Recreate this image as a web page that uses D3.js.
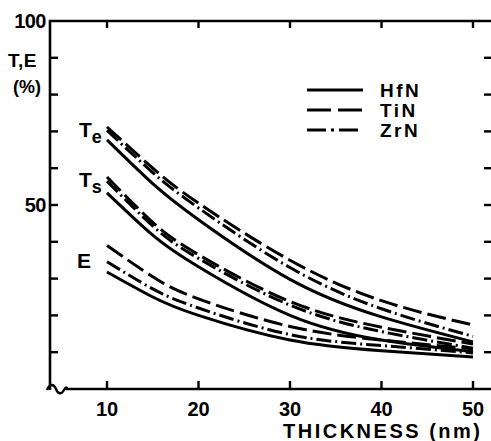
<!DOCTYPE html>
<html><head><meta charset="utf-8">
<script src="https://cdn.jsdelivr.net/npm/d3@7"></script>
<style>
html,body{margin:0;padding:0;background:#fff;}
svg text{font-family:"Liberation Sans",Arial,sans-serif;fill:#000;}
</style></head>
<body><svg id="c" width="491" height="441"></svg>
<script>
// ---- data ----
const thickness = [10, 15, 20, 30, 40, 50];
const materials = ["HfN", "TiN", "ZrN"];
const groups = ["Te", "Ts", "E"];
const Te_HfN = [67.7, 55.8, 46.0, 29.8, 19.6, 12.8];
const Te_TiN = [71.2, 60.0, 50.5, 35.0, 24.0, 17.4];
const Te_ZrN = [70.3, 58.8, 49.2, 33.0, 21.8, 14.3];
const Ts_HfN = [53.3, 41.8, 33.2, 20.0, 13.3, 10.1];
const Ts_TiN = [57.6, 45.3, 36.5, 23.8, 16.8, 12.2];
const Ts_ZrN = [56.5, 44.3, 35.5, 22.8, 15.6, 11.1];
const E_HfN = [31.8, 25.0, 20.0, 13.3, 10.4, 8.7];
const E_TiN = [39.0, 30.5, 24.5, 17.0, 13.3, 10.9];
const E_ZrN = [34.6, 27.2, 22.0, 14.8, 11.8, 9.8];
const xTicks = [10, 20, 30, 40, 50];
const yTicks = [10, 20, 30, 40, 50, 60, 70, 80, 90, 100];
const yTickLabels = {100: "100", 50: "50"};

(function () {
const series = [
  {g:"Te", m:"TiN", v:Te_TiN}, {g:"Te", m:"ZrN", v:Te_ZrN}, {g:"Te", m:"HfN", v:Te_HfN},
  {g:"Ts", m:"TiN", v:Ts_TiN}, {g:"Ts", m:"ZrN", v:Ts_ZrN}, {g:"Ts", m:"HfN", v:Ts_HfN},
  {g:"E", m:"TiN", v:E_TiN}, {g:"E", m:"ZrN", v:E_ZrN}, {g:"E", m:"HfN", v:E_HfN}
];
const dash = {HfN: null, TiN: "19,6", ZrN: "15,4,2,4"};

const svg = d3.select("#c");
const x = d3.scaleLinear().domain([10, 50]).range([107, 473]);
const y = d3.scaleLinear().domain([0, 100]).range([389, 21]);
const L = 50, R = 491, T = y(100), B = y(0);
const axW = 2.6;

svg.append("line").attr("x1", L).attr("x2", L).attr("y1", T - 1).attr("y2", B + 1)
  .attr("stroke", "#000").attr("stroke-width", axW);
svg.append("line").attr("x1", L - 1).attr("x2", R).attr("y1", T).attr("y2", T)
  .attr("stroke", "#000").attr("stroke-width", axW);
svg.append("line").attr("x1", 66).attr("x2", R).attr("y1", B).attr("y2", B)
  .attr("stroke", "#000").attr("stroke-width", axW);
svg.append("path").attr("d", `M${L-3},${B+1} C${L},${B-6} ${L+4},${B-5} ${L+6},${B} S${L+11},${B+6} ${L+14},${B+1} S${L+17},${B} 67,${B}`)
  .attr("fill", "none").attr("stroke", "#000").attr("stroke-width", 2.4);

yTicks.forEach(t => {
  if (t < 100) {
    svg.append("line").attr("x1", L).attr("x2", L + 8).attr("y1", y(t)).attr("y2", y(t))
      .attr("stroke", "#000").attr("stroke-width", 2.4);
    svg.append("line").attr("x1", R - 7).attr("x2", R).attr("y1", y(t)).attr("y2", y(t))
      .attr("stroke", "#000").attr("stroke-width", 2.4);
  }
  if (yTickLabels[t]) {
    svg.append("text").attr("x", L - 4).attr("y", y(t) + 7).attr("text-anchor", "end")
      .attr("font-size", 20).attr("font-weight", "bold").attr("letter-spacing", "-0.5").text(yTickLabels[t]);
  }
});
xTicks.forEach(t => {
  svg.append("line").attr("x1", x(t)).attr("x2", x(t)).attr("y1", B).attr("y2", B - 8)
    .attr("stroke", "#000").attr("stroke-width", 2.4);
  svg.append("line").attr("x1", x(t)).attr("x2", x(t)).attr("y1", T).attr("y2", T + 7)
    .attr("stroke", "#000").attr("stroke-width", 2.4);
  svg.append("text").attr("x", x(t)).attr("y", 416).attr("text-anchor", "middle")
    .attr("font-size", 20).attr("font-weight", "bold").text(t);
});
svg.append("text").attr("x", 283).attr("y", 438).attr("font-size", 20).attr("font-weight", "bold")
  .attr("textLength", 197).attr("lengthAdjust", "spacing").text("THICKNESS  (nm)");

svg.append("text").attr("x", 8).attr("y", 67).attr("font-size", 19).attr("font-weight", "bold")
  .attr("letter-spacing", "0.5").text("T,E");
svg.append("text").attr("x", 13).attr("y", 93).attr("font-size", 18).attr("font-weight", "bold").text("(%)");

const line = d3.line().x((d, i) => x(thickness[i])).y(d => y(d)).curve(d3.curveNatural);
series.forEach(s => {
  svg.append("path").datum(s.v).attr("d", line).attr("fill", "none").attr("stroke", "#000")
    .attr("stroke-width", 3).attr("stroke-dasharray", dash[s.m]);
});

const gl = svg.append("g").attr("font-weight", "bold");
const teT = gl.append("text").attr("x", 79).attr("y", 137).attr("font-size", 21);
teT.append("tspan").text("T");
teT.append("tspan").attr("dy", 6).attr("font-size", 18).text("e");
const tsT = gl.append("text").attr("x", 79).attr("y", 187).attr("font-size", 21);
tsT.append("tspan").text("T");
tsT.append("tspan").attr("dy", 6).attr("font-size", 18).text("s");
gl.append("text").attr("x", 77).attr("y", 268).attr("font-size", 21).text("E");

const legendY = {HfN: 90, TiN: 110, ZrN: 130};
const legendDash = {HfN: null, TiN: "24,7", ZrN: "19,5,3,5"};
materials.forEach(m => {
  svg.append("line").attr("x1", 307).attr("x2", 363).attr("y1", legendY[m]).attr("y2", legendY[m])
    .attr("stroke", "#000").attr("stroke-width", 3).attr("stroke-dasharray", legendDash[m]);
  svg.append("text").attr("x", 380).attr("y", legendY[m] + 7).attr("font-size", 19)
    .attr("font-weight", "bold").attr("letter-spacing", "2.5").text(m);
});
})();
</script></body></html>
